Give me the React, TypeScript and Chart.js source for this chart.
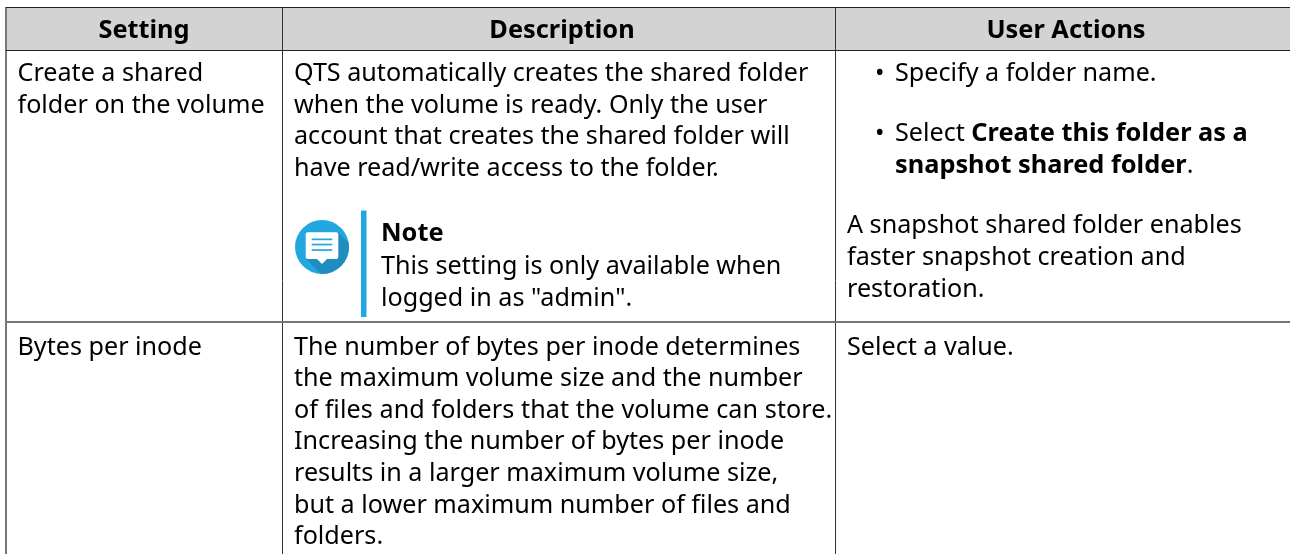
import React, { useEffect, useRef } from "react";
import { Chart, registerables } from "chart.js";

Chart.register(...registerables);

// ---- table content ----
const headers = ["Setting", "Description", "User Actions"];
const settingRow1 = ["Create a shared", "folder on the volume"];
const settingRow2 = ["Bytes per inode"];
const descriptionRow1 = [
  "QTS automatically creates the shared folder",
  "when the volume is ready. Only the user",
  "account that creates the shared folder will",
  "have read/write access to the folder.",
];
const noteTitle = "Note";
const noteLines = ["This setting is only available when", 'logged in as "admin".'];
const descriptionRow2 = [
  "The number of bytes per inode determines",
  "the maximum volume size and the number",
  "of files and folders that the volume can store.",
  "Increasing the number of bytes per inode",
  "results in a larger maximum volume size,",
  "but a lower maximum number of files and",
  "folders.",
];
const actionBullet1 = "Specify a folder name.";
const actionBullet2Lead = "Select ";
const actionBullet2Bold = ["Create this folder as a", "snapshot shared folder"];
const actionBullet2Tail = ".";
const actionParagraph = [
  "A snapshot shared folder enables",
  "faster snapshot creation and",
  "restoration.",
];
const actionRow2 = ["Select a value."];

// ---- table geometry, in scale units ----
const columnEdges = [6, 282, 835];
const rowEdges = [7, 50, 322];
const headerCentres = [144, 562, 1066];
const LINE = 31.6;
const FONT = 25.15;
const BOLD_FONT = 25.35;
const family = '"Noto Sans", sans-serif';

const tablePlugin = {
  id: "table",
  beforeDraw(chart: any) {
    const { ctx, scales } = chart;
    const X = (v: number) => scales.x.getPixelForValue(v);
    const Y = (v: number) => scales.y.getPixelForValue(v);
    ctx.save();
    ctx.fillStyle = "#d3d3d3";
    ctx.fillRect(X(columnEdges[0]), Y(rowEdges[0]), X(1290) - X(columnEdges[0]), Y(rowEdges[1]) - Y(rowEdges[0]));
    ctx.restore();
  },
  afterDatasetsDraw(chart: any) {
    const { ctx, scales } = chart;
    const X = (v: number) => scales.x.getPixelForValue(v);
    const Y = (v: number) => scales.y.getPixelForValue(v);
    const reg = `${FONT}px ${family}`;
    const bold = `bold ${BOLD_FONT}px ${family}`;
    ctx.save();
    ctx.fillStyle = "#000";
    ctx.textBaseline = "alphabetic";

    const put = (s: string, x: number, y: number, f = reg) => {
      ctx.font = f;
      ctx.fillText(s, X(x), Y(y));
      return ctx.measureText(s).width;
    };
    const block = (lines: string[], x: number, y: number, f = reg) =>
      lines.forEach((l, i) => {
        // the longest line of the second row runs slightly wider in the reference
        ctx.letterSpacing = l === descriptionRow2[2] ? "0.08px" : "0px";
        put(l, x, y + i * LINE, f);
        ctx.letterSpacing = "0px";
      });

    ctx.textAlign = "center";
    headers.forEach((h, i) => put(h, headerCentres[i], 38, bold));
    ctx.textAlign = "left";

    block(settingRow1, 17.5, 81);
    block(settingRow2, 17.5, 355);
    block(descriptionRow1, 294, 81);
    block(descriptionRow2, 294, 354.6);

    put(noteTitle, 381, 241, bold);
    block(noteLines, 381, 274);

    put("•", 875, 81);
    put(actionBullet1, 895, 81);
    put("•", 875, 141);
    const w = put(actionBullet2Lead, 895, 141);
    put(actionBullet2Bold[0], 895 + w, 141, bold);
    const w2 = put(actionBullet2Bold[1], 895, 172.5, bold);
    put(actionBullet2Tail, 895 + w2, 172.5);
    block(actionParagraph, 847, 233.4);
    block(actionRow2, 847, 355);

    // note marker
    ctx.fillStyle = "#22a7e0";
    ctx.fillRect(X(361), Y(210.5), 5.5, Y(317) - Y(210.5));

    // note icon
    const cx = X(322), cy = Y(247), r = 27;
    ctx.save();
    ctx.beginPath();
    ctx.arc(cx, cy, r, 0, Math.PI * 2);
    ctx.fillStyle = "#22a7e0";
    ctx.fill();
    ctx.clip();
    ctx.fillStyle = "#1f8dbe";
    ctx.beginPath();
    ctx.moveTo(cx + 16, cy - 15);
    ctx.lineTo(cx + 46, cy + 15);
    ctx.lineTo(cx + 14, cy + 42);
    ctx.lineTo(cx - 16, cy + 12);
    ctx.closePath();
    ctx.fill();
    ctx.restore();
    ctx.fillStyle = "#fff";
    ctx.beginPath();
    ctx.roundRect(cx - 16.3, cy - 14.7, 32.6, 26.7, 2);
    ctx.fill();
    ctx.beginPath();
    ctx.moveTo(cx - 5, cy + 12);
    ctx.lineTo(cx, cy + 17);
    ctx.lineTo(cx + 5, cy + 12);
    ctx.closePath();
    ctx.fill();
    ctx.fillStyle = "#22a7e0";
    [-8.5, -3.3, 2.2].forEach((d) => ctx.fillRect(cx - 10.3, cy + d, 20.6, 1.7));
    ctx.restore();
  },
};

export default function App() {
  const ref = useRef<HTMLCanvasElement>(null);
  useEffect(() => {
    const chart = new Chart(ref.current as HTMLCanvasElement, {
      type: "scatter",
      data: { datasets: [{ data: [] }] },
      plugins: [tablePlugin as any],
      options: {
        animation: false,
        responsive: false,
        layout: { padding: { left: columnEdges[0], top: rowEdges[0], right: 0, bottom: 0 } },
        plugins: { legend: { display: false }, tooltip: { enabled: false } },
        scales: {
          x: {
            type: "linear",
            min: columnEdges[0],
            max: 1290,
            afterBuildTicks: (s: any) => { s.ticks = columnEdges.map((value) => ({ value })); },
            ticks: { display: false },
            border: { display: false },
            grid: {
              drawTicks: false,
              color: (c: any) => (c.index === 0 ? "#777" : "#333"),
              lineWidth: (c: any) => (c.index === 0 ? 2 : 1),
            },
          },
          y: {
            type: "linear",
            reverse: true,
            min: rowEdges[0],
            max: 554,
            afterBuildTicks: (s: any) => { s.ticks = rowEdges.map((value) => ({ value })); },
            ticks: { display: false },
            border: { display: false },
            grid: {
              drawTicks: false,
              color: (c: any) => (c.index === 2 ? "#777" : "#222"),
              lineWidth: (c: any) => (c.index === 2 ? 2 : 1),
            },
          },
        },
      },
    });
    return () => chart.destroy();
  }, []);
  return (
    <canvas
      ref={ref}
      width={1290}
      height={554}
      style={{ position: "fixed", left: 0, top: 0, width: 1290, height: 554, background: "#fff" }}
    />
  );
}
